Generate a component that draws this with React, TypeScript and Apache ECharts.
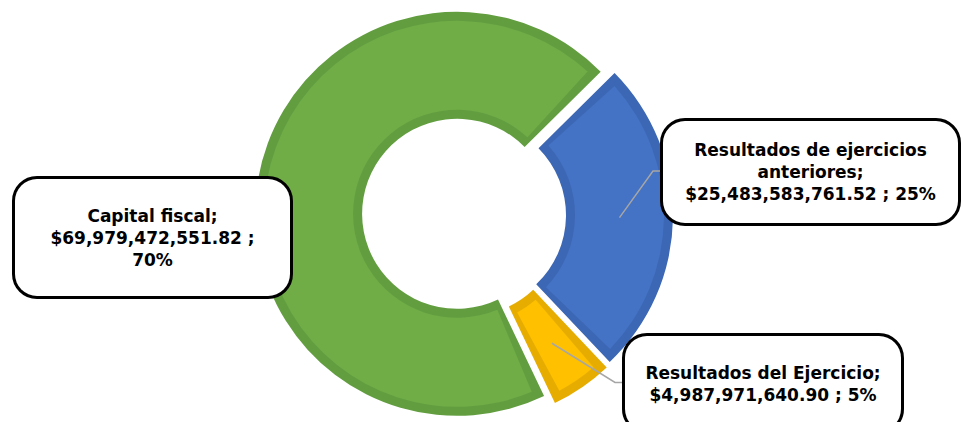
import React, { useEffect, useRef } from 'react';
import * as echarts from 'echarts';

// ---- data ----
const categories = ['Capital fiscal', 'Resultados de ejercicios\nanteriores', 'Resultados del Ejercicio'];
const values = [69979472551.82, 25483583761.52, 4987971640.9];
const fillColors = ['#70AD47', '#4472C4', '#FFC000'];
const edgeColors = ['#629E40', '#3C67B4', '#E6AD00'];
const valuePctSep = ['\n', ' ', ' '];
const leaderFor = [false, true, true];

// ---- layout ----
const CX = 464;
const CY = 215;
const R_IN = 95;
const R_OUT = 202;
const EDGE = 9;
const OFFSET = 7;
const START = 295.5;
const LINE_H = 22;
const labelBoxes = [
  { x: 15, y: 178, w: 275, h: 117 },
  { x: 663, y: 120, w: 295, h: 102 },
  { x: 625, y: 335, w: 276, h: 95 },
];

const total = values.reduce((a, b) => a + b, 0);
const fmtMoney = (v: number) =>
  '$' + v.toLocaleString('en-US', { minimumFractionDigits: 2, maximumFractionDigits: 2 });
const labelTexts = values.map(
  (v, i) => `${categories[i]};\n${fmtMoney(v)} ;${valuePctSep[i]}${Math.round((v / total) * 100)}%`
);

export default function App() {
  const ref = useRef<HTMLDivElement>(null);
  useEffect(() => {
    if (!ref.current) return;
    const chart = echarts.init(ref.current, null, { renderer: 'svg' });

    const graphics: any[] = [];
    let cum = 0;
    values.forEach((v, i) => {
      const mid = START - (360 * (cum + v / 2)) / total;
      cum += v;
      const b = labelBoxes[i];
      const ey = b.y + b.h / 2;
      if (leaderFor[i]) {
        const rad = (mid * Math.PI) / 180;
        const rr = OFFSET + (R_IN + R_OUT) / 2;
        const sx = CX + rr * Math.cos(rad);
        const sy = CY - rr * Math.sin(rad);
        graphics.push({
          type: 'polyline',
          z: 50,
          silent: true,
          shape: { points: [[sx, sy], [b.x - 10, ey], [b.x, ey]] },
          style: { stroke: '#A6A6A6', lineWidth: 1.5, fill: 'none' },
        });
      }
      const lines = labelTexts[i].split('\n').length;
      const pv = (b.h - lines * LINE_H) / 2;
      const ph = 16;
      graphics.push({
        type: 'text',
        z: 60,
        silent: true,
        x: b.x + b.w / 2,
        y: b.y + b.h / 2 + 1,
        style: {
          text: labelTexts[i],
          align: 'center',
          verticalAlign: 'middle',
          fill: '#000',
          fontFamily: 'DejaVu Sans',
          fontWeight: 'bold',
          fontSize: 17,
          lineHeight: LINE_H,
          width: b.w - 2 * ph,
          padding: [pv, ph, pv, ph],
          backgroundColor: '#fff',
          borderColor: '#000',
          borderWidth: 3,
          borderRadius: 22,
        },
      });
    });

    const common = {
      type: 'pie',
      center: [CX, CY],
      startAngle: START,
      clockwise: true,
      selectedMode: 'multiple',
      selectedOffset: OFFSET,
      avoidLabelOverlap: false,
      emphasis: { disabled: true },
      silent: true,
      label: { show: false },
      labelLine: { show: false },
    };

    chart.setOption({
      animation: false,
      series: [
        {
          ...common,
          z: 2,
          radius: [R_IN, R_OUT],
          data: values.map((v, i) => ({
            name: categories[i],
            value: v,
            selected: true,
            itemStyle: { color: edgeColors[i] },
          })),
        },
        {
          ...common,
          z: 3,
          radius: [R_IN + EDGE, R_OUT - EDGE],
          padAngle: 5.5,
          data: values.map((v, i) => ({
            name: categories[i],
            value: v,
            selected: true,
            itemStyle: { color: fillColors[i] },
          })),
        },
      ],
      graphic: graphics,
    } as any);

    return () => chart.dispose();
  }, []);

  return (
    <div
      ref={ref}
      style={{ position: 'fixed', left: 0, top: 0, width: 963, height: 422, background: '#fff' }}
    />
  );
}
